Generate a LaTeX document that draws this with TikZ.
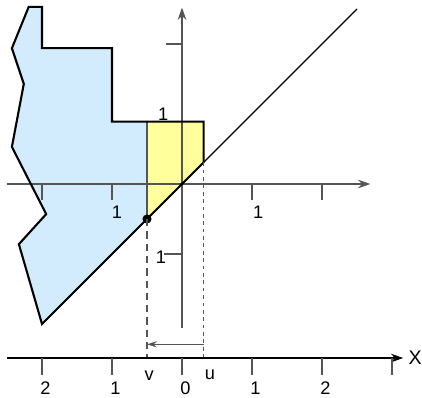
\documentclass[tikz,border=0pt]{standalone}
\usepackage{fontspec}
\setmainfont{Liberation Sans}
\usetikzlibrary{arrows.meta}
\definecolor{sky}{HTML}{D2ECFD}
\definecolor{lemon}{HTML}{FFFF9C}
\definecolor{axisgray}{HTML}{555555}
\tikzset{>={Stealth[length=5pt,width=3.5pt]},axis/.style={axisgray,line width=.6pt},edge/.style={black,line width=.85pt,line join=miter},guide/.style={axisgray,line width=.55pt},lbl/.style={font=\fontsize{7.4}{8}\selectfont,inner sep=0pt}}
\begin{document}
\begin{tikzpicture}
\useasboundingbox (-2.6,-3.043) rectangle (3.4286,2.6286);
\coordinate (v) at (-0.5,-0.5);
\coordinate (u) at (0.31,0.31);
\coordinate (vb) at (-0.5,-2.486);
\coordinate (ub) at (0.31,-2.486);
\fill[sky] (-0.5,0.89)--(-1,0.89)--(-1,1.94)--(-2,1.94)--(-2,2.53)--(-2.19,2.53)--(-2.43,1.94)--(-2.26,1.43)--(-2.43,0.53)--(-1.94,-0.43)--(-2.33,-0.86)--(-2,-2)--(v)--cycle;
\fill[lemon] (-0.5,0.89)--(0.31,0.89)--(u)--(v)--cycle;
\draw[axis,->] (-2.5,0)--(2.69,0);
\draw[axis,->] (0,-2.05)--(0,2.52);
\foreach \x in {-2,-1,1,2}{\draw[axis] (\x,0)--(\x,-0.23);}
\draw[axis] (0,2)--(-0.23,2);
\draw[axis] (0,-1)--(-0.25,-1);
\draw[black,line width=.45pt] (-2,-2)--(2.5,2.5);
\draw[guide] (-0.5,0.89)--(v);
\draw[edge] (-0.5,0.89)--(-1,0.89)--(-1,1.94)--(-2,1.94)--(-2,2.53)--(-2.19,2.53)--(-2.43,1.94)--(-2.26,1.43)--(-2.43,0.53)--(-1.94,-0.43)--(-2.33,-0.86)--(-2,-2)--(v);
\draw[edge] (-0.5,0.89)--(0.31,0.89)--(u)--(v);
\fill (v) circle (0.065);
\fill (0,0) circle (0.025);
\node[lbl] (ly1) at (-0.27,0.99) {1};
\node[lbl] (lxm) at (-0.93,-0.4) {1};
\node[lbl] (lxp) at (1.09,-0.4) {1};
\node[lbl] (lym) at (-0.3,-1.04) {1};
\draw[guide,dash pattern=on 3pt off 2pt] (v)--(vb);
\draw[guide,dash pattern=on 1.5pt off 1.5pt] (u)--(ub);
\coordinate (ua) at (0.31,-2.29);
\coordinate (va) at (-0.5,-2.29);
\draw[guide,->,>={Stealth[length=4pt,width=2.5pt]}] (ua)--(va);
\draw[axis,black,->] (-2.5,-2.486)--(3.16,-2.486);
\foreach \x in {-2,...,3}{\draw[axis] (\x,-2.486)--(\x,-2.73);}
\foreach \x/\t in {-2/2,-1/1,0/0,1/1,2/2}{\node[lbl] at (\x+0.05,-2.914) {\t};}
\node[lbl] (lv) at (-0.47,-2.74) {v};
\node[lbl] (lu) at (0.4,-2.73) {u};
\node[lbl,font=\fontsize{8}{9}\selectfont] (lX) at (3.33,-2.486) {X};
\end{tikzpicture}
\end{document}
